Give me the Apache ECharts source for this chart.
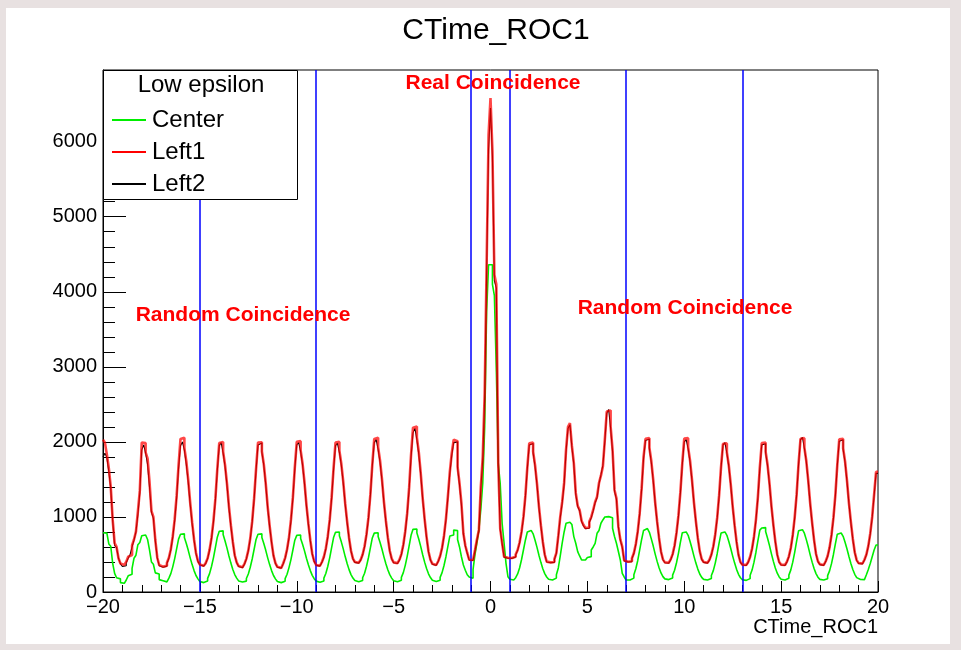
<!DOCTYPE html>
<html>
<head>
<meta charset="utf-8">
<title>CTime_ROC1</title>
<script src="https://cdn.jsdelivr.net/npm/echarts@6/dist/echarts.min.js"></script>
<style>
  html, body { margin: 0; padding: 0; background: #e8e1e1; }
  #chart { width: 961px; height: 650px; }
</style>
</head>
<body>
<div id="chart"></div>
<script>
// Histogram binning: 400 bins of 0.1 ns on [-20, 20]
const xMin = -20;
const binWidth = 0.1;

// Coincidence time, "Center" arm (counts per bin)
const center = [
  790, 785, 770, 640, 610, 382, 249, 190, 175, 125, 116, 118, 160, 215, 235, 316, 450, 490, 630, 660,
  750, 760, 740, 700, 560, 400, 370, 255, 240, 165, 150, 135, 135, 150, 185, 245, 335, 445, 575, 705,
  770, 775, 725, 645, 555, 455, 365, 285, 220, 175, 140, 125, 128, 145, 182, 245, 340, 455, 590, 730,
  810, 815, 765, 680, 585, 480, 385, 300, 232, 185, 148, 132, 130, 145, 180, 240, 330, 440, 570, 700,
  770, 775, 725, 645, 555, 455, 365, 285, 220, 175, 140, 125, 128, 142, 178, 236, 325, 432, 560, 690,
  755, 760, 712, 635, 548, 450, 362, 285, 222, 178, 145, 130, 132, 148, 185, 246, 340, 455, 590, 725,
  795, 800, 750, 668, 575, 472, 380, 298, 232, 186, 152, 137, 138, 153, 190, 250, 343, 456, 588, 720,
  785, 790, 740, 660, 570, 468, 376, 296, 231, 185, 150, 136, 138, 155, 195, 258, 355, 475, 615, 755,
  835, 840, 788, 702, 605, 496, 398, 312, 242, 193, 157, 140, 140, 156, 195, 258, 353, 470, 608, 745,
  760, 825, 820, 700, 600, 470, 360, 290, 230, 200, 182, 300, 500, 653, 827, 1100, 1449, 2200, 3740, 4360,
  4360, 4100, 3950, 2960, 1716, 1449, 916, 653, 382, 204, 170, 160, 165, 190, 240, 320, 430, 560, 690, 800,
  820, 827, 775, 690, 595, 490, 395, 310, 245, 200, 170, 160, 165, 185, 230, 320, 480, 650, 800, 916,
  930, 938, 900, 738, 650, 538, 480, 427, 427, 430, 460, 471, 560, 600, 649, 782, 820, 916, 960, 1000,
  1004, 1004, 990, 849, 740, 649, 540, 427, 249, 200, 160, 160, 165, 185, 230, 310, 420, 560, 700, 820,
  845, 849, 795, 708, 612, 505, 408, 322, 254, 205, 175, 165, 168, 185, 225, 290, 390, 515, 660, 790,
  800, 804, 755, 672, 580, 478, 385, 305, 240, 195, 168, 160, 162, 180, 220, 285, 385, 510, 655, 785,
  800, 804, 755, 672, 580, 478, 385, 302, 236, 190, 163, 155, 158, 178, 222, 292, 398, 530, 682, 825,
  852, 858, 805, 716, 618, 508, 408, 320, 250, 200, 170, 160, 163, 182, 225, 295, 398, 528, 678, 815,
  830, 836, 784, 698, 602, 495, 398, 313, 245, 197, 168, 160, 162, 178, 218, 282, 378, 500, 640, 770,
  786, 791, 742, 662, 572, 472, 380, 300, 236, 192, 166, 160, 165, 185, 230, 300, 380, 470, 560, 627
];

// Coincidence time, "Left1" arm
const left1 = [
  2030, 1990, 1830, 1650, 1400, 960, 650, 600, 449, 380, 360, 365, 404, 470, 493, 620, 700, 804, 1071, 1350,
  1990, 1985, 1860, 1780, 1471, 1080, 1000, 693, 460, 360, 338, 335, 350, 390, 455, 570, 740, 970, 1280, 1690,
  2040, 2055, 1920, 1740, 1490, 1190, 930, 700, 520, 415, 365, 350, 355, 385, 450, 565, 720, 945, 1240, 1640,
  1985, 2000, 1870, 1690, 1440, 1140, 890, 670, 490, 395, 345, 330, 340, 375, 445, 555, 715, 940, 1250, 1640,
  1990, 1995, 1875, 1700, 1445, 1135, 885, 665, 485, 385, 335, 320, 335, 380, 455, 570, 730, 960, 1260, 1660,
  2000, 2010, 1890, 1710, 1460, 1160, 910, 690, 510, 410, 360, 350, 360, 400, 470, 580, 740, 960, 1260, 1650,
  1990, 2000, 1885, 1710, 1470, 1180, 940, 720, 550, 445, 400, 390, 395, 430, 500, 610, 770, 990, 1300, 1700,
  2040, 2055, 1930, 1750, 1500, 1200, 950, 730, 550, 445, 395, 385, 390, 430, 505, 630, 810, 1050, 1390, 1830,
  2190, 2205, 2060, 1860, 1580, 1250, 975, 735, 540, 430, 375, 360, 370, 410, 480, 590, 750, 975, 1270, 1600,
  1850, 2030, 2010, 1671, 1450, 1182, 782, 620, 520, 430, 427, 430, 560, 700, 827, 1404, 1800, 2649, 4360, 6093,
  6582, 5871, 4227, 4100, 1716, 849, 653, 471, 455, 450, 452, 455, 470, 500, 560, 660, 800, 1000, 1280, 1660,
  1980, 1990, 1870, 1690, 1440, 1140, 890, 670, 500, 405, 395, 390, 400, 440, 520, 750, 1004, 1200, 1453, 1900,
  2200, 2250, 1950, 1720, 1320, 1150, 1093, 950, 893, 853, 860, 938, 1000, 1093, 1200, 1271, 1453, 1550, 1671, 2027,
  2404, 2420, 2204, 1893, 1360, 1250, 871, 700, 604, 420, 404, 400, 410, 450, 520, 640, 810, 1050, 1380, 1800,
  2040, 2050, 1925, 1745, 1490, 1190, 940, 720, 540, 435, 395, 390, 395, 435, 505, 620, 790, 1020, 1330, 1720,
  2045, 2050, 1930, 1750, 1495, 1195, 945, 720, 545, 440, 400, 390, 395, 430, 500, 610, 770, 990, 1290, 1670,
  1975, 1980, 1860, 1685, 1435, 1140, 890, 670, 495, 400, 365, 360, 365, 400, 470, 580, 740, 965, 1265, 1660,
  1985, 1990, 1870, 1695, 1445, 1145, 895, 675, 500, 400, 365, 360, 370, 405, 475, 590, 760, 995, 1300, 1710,
  2040, 2050, 1925, 1745, 1485, 1180, 925, 695, 510, 410, 370, 360, 370, 410, 480, 595, 760, 990, 1295, 1700,
  2035, 2040, 1915, 1740, 1485, 1185, 935, 710, 530, 425, 385, 380, 390, 430, 500, 615, 780, 1000, 1300, 1600
];

// Coincidence time, "Left2" arm
const left2 = [
  1800, 1850, 1790, 1600, 1380, 950, 620, 590, 450, 375, 340, 350, 390, 450, 500, 600, 690, 800, 1030, 1320,
  1893, 1960, 1850, 1700, 1400, 1060, 980, 680, 455, 350, 330, 330, 345, 380, 450, 560, 730, 950, 1250, 1650,
  1950, 2000, 1890, 1700, 1460, 1170, 910, 690, 510, 405, 360, 345, 350, 380, 445, 555, 710, 930, 1220, 1620,
  1950, 1990, 1850, 1670, 1420, 1120, 875, 660, 485, 390, 340, 325, 335, 370, 440, 548, 705, 930, 1235, 1620,
  1960, 1985, 1860, 1685, 1430, 1120, 875, 660, 480, 380, 330, 318, 330, 375, 448, 560, 720, 945, 1245, 1640,
  1960, 1990, 1870, 1690, 1440, 1145, 900, 680, 505, 405, 355, 345, 355, 395, 462, 570, 728, 948, 1245, 1630,
  1950, 1985, 1860, 1690, 1450, 1165, 925, 712, 545, 440, 395, 385, 390, 425, 495, 600, 760, 975, 1285, 1680,
  1990, 2030, 1900, 1725, 1480, 1185, 935, 720, 545, 440, 390, 380, 385, 425, 498, 620, 798, 1035, 1370, 1800,
  2120, 2180, 2030, 1830, 1560, 1235, 960, 725, 535, 425, 370, 355, 365, 405, 475, 582, 740, 960, 1255, 1580,
  1820, 1990, 2000, 1650, 1430, 1160, 770, 610, 515, 425, 420, 420, 550, 690, 810, 1380, 1760, 2600, 4250, 5900,
  6450, 5800, 4150, 4050, 1690, 835, 645, 465, 450, 445, 448, 450, 465, 495, 555, 650, 790, 985, 1265, 1640,
  1960, 1980, 1850, 1670, 1425, 1125, 880, 662, 495, 400, 390, 385, 395, 435, 515, 740, 990, 1185, 1430, 1870,
  2180, 2230, 1930, 1700, 1300, 1140, 1080, 940, 880, 845, 850, 925, 990, 1080, 1190, 1255, 1440, 1560, 1690, 2000,
  2380, 2430, 2180, 1870, 1345, 1235, 860, 690, 595, 415, 400, 395, 405, 445, 512, 630, 800, 1035, 1365, 1780,
  2020, 2040, 1905, 1725, 1475, 1180, 930, 712, 535, 430, 390, 385, 390, 430, 498, 612, 780, 1005, 1315, 1700,
  2000, 2030, 1910, 1730, 1480, 1185, 935, 712, 540, 435, 395, 385, 390, 425, 495, 602, 762, 980, 1275, 1655,
  1960, 1990, 1850, 1670, 1420, 1130, 880, 662, 490, 395, 360, 355, 360, 395, 465, 572, 730, 955, 1250, 1640,
  1960, 1975, 1855, 1680, 1430, 1135, 885, 668, 495, 395, 360, 355, 365, 400, 470, 582, 752, 985, 1290, 1700,
  2030, 2060, 1915, 1735, 1470, 1170, 915, 688, 505, 405, 365, 355, 365, 405, 475, 588, 750, 980, 1280, 1690,
  2010, 2030, 1900, 1725, 1470, 1175, 925, 700, 525, 420, 380, 375, 385, 425, 495, 608, 770, 990, 1285, 1580
];

// Window boundaries (ns) marked with vertical lines
const windowCuts = [-15, -9, -1, 1, 7, 13];

// Axis ranges and tick spacing
const xRange = [-20, 20];
const xTickStep = 5;
const yRange = [0, 6955];
const yTickStep = 1000;

const seriesNames = ['Center', 'Left1', 'Left2'];
const FONT = '"Liberation Sans", Arial, Helvetica, sans-serif';

// Step-histogram points: each bin's value held from its low edge to the next edge
function histPoints(values) {
  const pts = values.map((v, i) => [+(xMin + i * binWidth).toFixed(2), v]);
  pts.push([+(xMin + values.length * binWidth).toFixed(2), values[values.length - 1]]);
  return pts;
}

const chart = echarts.init(document.getElementById('chart'), null, { renderer: 'canvas' });

const fmtX = v => (v < 0 ? '\u2212' + Math.abs(v) : String(v));

chart.setOption({
  animation: false,
  backgroundColor: '#e8e1e1',
  textStyle: { fontFamily: FONT },
  title: {
    text: 'CTime_ROC1',
    left: 491,
    textAlign: 'center',
    top: 11,
    textStyle: { fontFamily: FONT, fontSize: 30, fontWeight: 'normal', color: '#000' }
  },
  grid: {
    left: 103, right: 83, top: 70, bottom: 58,
    show: true, borderColor: '#000', borderWidth: 1, backgroundColor: 'transparent'
  },
  legend: {
    data: seriesNames,
    orient: 'vertical',
    left: 107,
    top: 103,
    itemGap: 8,
    itemWidth: 34,
    itemHeight: 2,
    icon: 'rect',
    selectedMode: false,
    z: 60,
    textStyle: { fontFamily: FONT, fontSize: 24, color: '#000', padding: [0, 0, 0, 1] }
  },
  xAxis: {
    type: 'value',
    min: xRange[0], max: xRange[1], interval: xTickStep,
    name: 'CTime_ROC1',
    nameLocation: 'end',
    nameGap: 0,
    nameTextStyle: { fontFamily: FONT, fontSize: 20, color: '#000', align: 'right', verticalAlign: 'top', padding: [25, 0, 0, 0] },
    axisLine: { show: true, onZero: false, lineStyle: { color: '#000', width: 1 } },
    axisTick: { show: true, inside: true, length: 11, lineStyle: { color: '#000', width: 1 } },
    minorTick: { show: true, splitNumber: 5, length: 7, lineStyle: { color: '#000', width: 1 } },
    axisLabel: { formatter: fmtX, fontFamily: FONT, fontSize: 20, color: '#000', margin: 5 },
    splitLine: { show: false }
  },
  yAxis: {
    type: 'value',
    min: yRange[0], max: yRange[1], interval: yTickStep,
    axisLine: { show: true, onZero: false, lineStyle: { color: '#000', width: 1 } },
    axisTick: { show: true, inside: true, length: 23, lineStyle: { color: '#000', width: 1 } },
    minorTick: { show: true, splitNumber: 5, length: 12, lineStyle: { color: '#000', width: 1 } },
    axisLabel: {
      formatter: v => (v % yTickStep === 0 ? String(v) : ''),
      fontFamily: FONT, fontSize: 20, color: '#000', margin: 6
    },
    splitLine: { show: false }
  },
  graphic: [
    { type: 'rect', z: -10, shape: { x: 6, y: 8, width: 944, height: 636 }, style: { fill: '#ffffff' } },
    { type: 'rect', z: 50, shape: { x: 103.5, y: 70.5, width: 194, height: 129 }, style: { fill: '#ffffff', stroke: '#000', lineWidth: 1 } },
    { type: 'text', z: 60, x: 201, y: 85, style: { text: 'Low epsilon', font: '24px ' + FONT, fill: '#000', textAlign: 'center', textVerticalAlign: 'middle' } },
    { type: 'text', z: 60, x: 493, y: 83, style: { text: 'Real Coincidence', font: 'bold 21px ' + FONT, fill: '#ff0000', textAlign: 'center', textVerticalAlign: 'middle' } },
    { type: 'text', z: 60, x: 243, y: 315, style: { text: 'Random Coincidence', font: 'bold 21px ' + FONT, fill: '#ff0000', textAlign: 'center', textVerticalAlign: 'middle' } },
    { type: 'text', z: 60, x: 685, y: 308, style: { text: 'Random Coincidence', font: 'bold 21px ' + FONT, fill: '#ff0000', textAlign: 'center', textVerticalAlign: 'middle' } }
  ],
  series: [
    {
      name: 'Center',
      type: 'line',
      step: 'end',
      symbol: 'none',
      color: '#00ee00',
      lineStyle: { color: '#00ee00', width: 1.6 },
      data: histPoints(center),
      z: 3,
      markLine: {
        silent: true,
        symbol: 'none',
        label: { show: false },
        lineStyle: { color: '#0000ff', width: 1.5, type: 'solid' },
        data: windowCuts.map(v => ({ xAxis: v }))
      }
    },
    {
      name: 'Left2',
      type: 'line',
      step: 'end',
      symbol: 'none',
      color: '#000000',
      lineStyle: { color: '#000000', width: 1.1 },
      data: histPoints(left2),
      z: 4
    },
    {
      name: 'Left1',
      type: 'line',
      step: 'end',
      symbol: 'none',
      color: '#ff0000',
      lineStyle: { color: 'rgba(255,0,0,0.72)', width: 2.6 },
      data: histPoints(left1),
      z: 5
    }
  ]
});
</script>
</body>
</html>
